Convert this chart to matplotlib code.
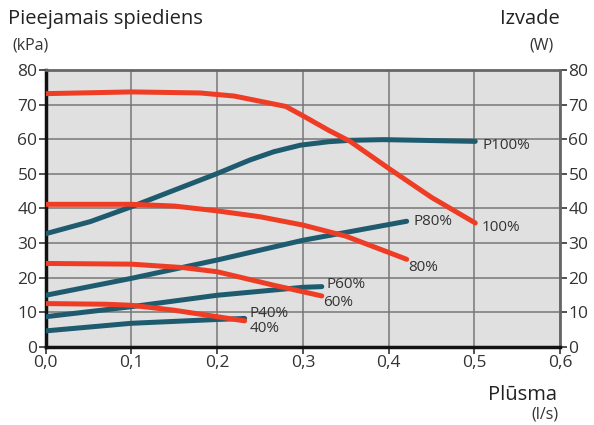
import matplotlib.pyplot as plt

plt.rcParams["font.family"] = ["Open Sans", "DejaVu Sans"]

# flow (l/s) and pressure (kPa) / power (W) readings
x_100 = [0.0, 0.1, 0.18, 0.22, 0.25, 0.28, 0.30, 0.33, 0.355, 0.40, 0.45, 0.501]
p_100 = [73.2, 73.7, 73.4, 72.5, 71.0, 69.5, 66.8, 62.6, 59.4, 51.6, 43.2, 35.8]
x_w100 = [0.0, 0.052, 0.1, 0.2, 0.238, 0.266, 0.297, 0.33, 0.355, 0.394, 0.501]
w_100 = [32.7, 36.2, 40.5, 50.1, 54.0, 56.4, 58.3, 59.3, 59.7, 59.9, 59.4]

x_80 = [0.0, 0.1, 0.15, 0.2, 0.25, 0.3, 0.35, 0.421]
p_80 = [41.2, 41.2, 40.7, 39.3, 37.6, 35.2, 32.0, 25.3]
x_w80 = [0.0, 0.1, 0.2, 0.3, 0.421]
w_80 = [14.9, 19.8, 25.1, 30.8, 36.3]

x_60 = [0.0, 0.1, 0.16, 0.2, 0.266, 0.322]
p_60 = [24.1, 23.9, 22.9, 21.7, 17.8, 14.7]
x_w60 = [0.0, 0.1, 0.2, 0.3, 0.322]
w_60 = [8.7, 11.6, 14.9, 17.2, 17.4]

x_40 = [0.0, 0.071, 0.1, 0.149, 0.2, 0.232]
p_40 = [12.5, 12.3, 12.0, 10.6, 8.7, 7.5]
x_w40 = [0.0, 0.1, 0.2, 0.232]
w_40 = [4.6, 6.8, 7.9, 8.2]

x_ticks = [0.0, 0.1, 0.2, 0.3, 0.4, 0.5, 0.6]
x_tick_labels = ["0,0", "0,1", "0,2", "0,3", "0,4", "0,5", "0,6"]
y_ticks = [0, 10, 20, 30, 40, 50, 60, 70, 80]

red = "#ee3d24"
teal = "#1f5b6e"
txt = "#333333"

fig = plt.figure(figsize=(5.94, 4.25), dpi=100)
ax = fig.add_axes([0.077, 0.184, 0.866, 0.651])
ax.set_facecolor("#e0e0e0")

for xs, ys in [(x_w100, w_100), (x_w80, w_80), (x_w60, w_60), (x_w40, w_40)]:
    ax.plot(xs, ys, color=teal, lw=3.6, solid_capstyle="round",
            solid_joinstyle="round", zorder=3)
for xs, ys in [(x_100, p_100), (x_80, p_80), (x_60, p_60), (x_40, p_40)]:
    ax.plot(xs, ys, color=red, lw=3.6, solid_capstyle="round",
            solid_joinstyle="round", zorder=4)

# curve labels
lbl = dict(fontsize=11, color=txt, va="center", ha="left", zorder=5)
ax.text(x_w100[-1] + 0.008, w_100[-1] - 1.2, "P100%", **lbl)
ax.text(x_100[-1] + 0.008, p_100[-1] - 1.2, "100%", **lbl)
ax.text(x_w80[-1] + 0.008, w_80[-1], "P80%", **lbl)
ax.text(x_80[-1] + 0.002, p_80[-1] - 2.3, "80%", **lbl)
ax.text(x_w60[-1] + 0.005, w_60[-1] + 0.5, "P60%", **lbl)
ax.text(x_60[-1] + 0.002, p_60[-1] - 2.0, "60%", **lbl)
ax.text(x_w40[-1] + 0.006, w_40[-1] + 1.5, "P40%", **lbl)
ax.text(x_40[-1] + 0.006, p_40[-1] - 2.2, "40%", **lbl)

ax.set_xlim(0, 0.6)
ax.set_ylim(0, 80)
ax.set_xticks(x_ticks)
ax.set_xticklabels(x_tick_labels)
ax.set_yticks(y_ticks)
ax.grid(True, color="#777777", lw=1.1, zorder=1)
ax.set_axisbelow(True)

ax.tick_params(axis="both", labelsize=12.5, colors=txt, length=5, width=1.2,
               direction="out", pad=1)
ax.tick_params(axis="y", right=True, labelright=True)

for side in ["left", "bottom"]:
    ax.spines[side].set_color("#111111")
    ax.spines[side].set_linewidth(2.5)
for side in ["top", "right"]:
    ax.spines[side].set_color("#666666")
    ax.spines[side].set_linewidth(2.0)

fig.text(0.013, 0.955, "Pieejamais spiediens", fontsize=14.5, color="#222222", va="center")
fig.text(0.020, 0.893, "(kPa)", fontsize=11.5, color=txt, va="center")
fig.text(0.942, 0.955, "Izvade", fontsize=14.5, color="#222222", va="center", ha="right")
fig.text(0.932, 0.893, "(W)", fontsize=11.5, color=txt, va="center", ha="right")
fig.text(0.937, 0.070, "Plūsma", fontsize=14.5, color="#222222", va="center", ha="right")
fig.text(0.940, 0.025, "(l/s)", fontsize=11.5, color=txt, va="center", ha="right")

fig.savefig("out.png", dpi=100)
